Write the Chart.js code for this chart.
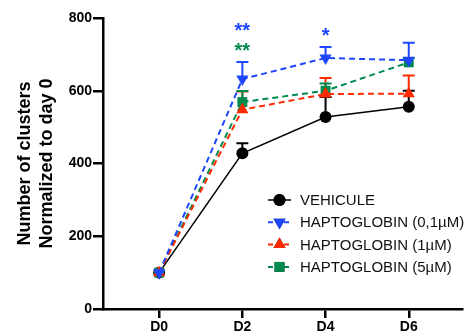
<!DOCTYPE html>
<html>
<head>
<meta charset="utf-8">
<script src="https://cdn.jsdelivr.net/npm/chart.js@4/dist/chart.umd.min.js"></script>
<style>
  html, body { margin: 0; padding: 0; background: #fff; }
  #wrap { width: 469px; height: 335px; }
</style>
</head>
<body>
<div id="wrap"><canvas id="chart"></canvas></div>
<script>
const days = [0, 2, 4, 6];
const dayLabels = ["D0", "D2", "D4", "D6"];
const yTicks = [0, 200, 400, 600, 800];

const seriesNames = ["VEHICULE", "HAPTOGLOBIN (0,1µM)", "HAPTOGLOBIN (1µM)", "HAPTOGLOBIN (5µM)"];
const vehicule = [100, 428, 528, 556];
const hapto01 = [100, 632, 690, 684];
const hapto1 = [100, 548, 591, 592];
const hapto5 = [100, 569, 600, 678];

// upper SEM
const vehiculeErr = [0, 28, 55, 44];
const hapto01Err = [0, 47, 30, 48];
const hapto1Err = [0, 50, 44, 50];
const hapto5Err = [0, 30, 20, 12];

// significance marks
const starDays = [2, 2, 4];
const starValues = [774, 718, 760];
const starTexts = ["**", "**", "*"];
const starSeries = [1, 3, 1];

const colors = ["#000000", "#1e46ff", "#ff2a00", "#008a4e"];
const font = "Arial, 'Liberation Sans', sans-serif";

function pts(values) {
  return values.map((v, i) => ({ x: days[i], y: v }));
}

const errs = [vehiculeErr, hapto01Err, hapto1Err, hapto5Err];

const errorBars = {
  id: "errorBars",
  beforeDatasetsDraw(chart) {
    const ctx = chart.ctx;
    const y = chart.scales.y;
    chart.data.datasets.forEach((ds, di) => {
      const meta = chart.getDatasetMeta(di);
      meta.data.forEach((p, i) => {
        const e = errs[di][i];
        if (!e) return;
        const top = y.getPixelForValue(ds.data[i].y + e);
        ctx.save();
        ctx.strokeStyle = colors[di];
        ctx.lineWidth = 2;
        ctx.beginPath();
        ctx.moveTo(p.x, p.y);
        ctx.lineTo(p.x, top);
        ctx.moveTo(p.x - 6, top);
        ctx.lineTo(p.x + 6, top);
        ctx.stroke();
        ctx.restore();
      });
    });
  },
  afterDraw(chart) {
    const ctx = chart.ctx;
    const xs = chart.scales.x, ys = chart.scales.y;
    ctx.save();
    ctx.font = "bold 20px " + font;
    ctx.textAlign = "center";
    ctx.textBaseline = "middle";
    starTexts.forEach((t, i) => {
      ctx.fillStyle = colors[starSeries[i]];
      ctx.fillText(t, xs.getPixelForValue(starDays[i]), ys.getPixelForValue(starValues[i]) + 4);
    });
    ctx.restore();

    // legend
    ctx.save();
    ctx.font = "15px " + font;
    ctx.textBaseline = "middle";
    chart.data.datasets.forEach((ds, di) => {
      const ly = 200 + di * 22.3;
      ctx.strokeStyle = colors[di];
      ctx.lineWidth = di === 0 ? 1.5 : 2;
      ctx.setLineDash(di === 0 ? [] : [5, 3]);
      ctx.beginPath();
      ctx.moveTo(268, ly);
      ctx.lineTo(291, ly);
      ctx.stroke();
      ctx.setLineDash([]);
      Chart.helpers.drawPoint(ctx, {
        pointStyle: ds.pointStyle,
        radius: ds.pointRadius,
        rotation: ds.pointRotation || 0,
        borderWidth: 0
      }, 279.5, ly);
      ctx.fillStyle = colors[di];
      ctx.fill();
      ctx.fillStyle = "#111";
      ctx.fillText(seriesNames[di], 300, ly + 1);
    });
    ctx.restore();
  }
};

const styles = [
  { pointStyle: "circle", pointRadius: 6, dash: [] },
  { pointStyle: "triangle", pointRadius: 7, pointRotation: 180, dash: [6, 4] },
  { pointStyle: "triangle", pointRadius: 7, dash: [6, 4] },
  { pointStyle: "rect", pointRadius: 7, dash: [6, 4] }
];
const values = [vehicule, hapto01, hapto1, hapto5];
// black at the bottom, blue on top
const drawOrder = [3, 0, 1, 2];

new Chart(document.getElementById("chart"), {
  type: "line",
  data: {
    datasets: values.map((v, i) => ({
      label: seriesNames[i],
      data: pts(v),
      borderColor: colors[i],
      backgroundColor: colors[i],
      borderWidth: i === 0 ? 1.5 : 2,
      borderDash: styles[i].dash,
      pointStyle: styles[i].pointStyle,
      pointRadius: styles[i].pointRadius,
      pointRotation: styles[i].pointRotation || 0,
      pointBorderWidth: 0,
      order: drawOrder[i],
      tension: 0
    }))
  },
  options: {
    responsive: true,
    maintainAspectRatio: false,
    animation: false,
    layout: { padding: { top: 18, right: 0, left: 0, bottom: 0 } },
    plugins: { legend: { display: false }, tooltip: { enabled: false } },
    scales: {
      x: {
        type: "linear",
        min: -1.35,
        max: 7.28,
        afterBuildTicks: (s) => { s.ticks = days.map(v => ({ value: v })); },
        afterFit: (s) => { s.height = 26; },
        ticks: {
          callback: (v) => dayLabels[days.indexOf(v)],
          color: "#000",
          font: { family: font, size: 14, weight: "bold" },
          padding: 1,
          maxRotation: 0
        },
        grid: { drawOnChartArea: false, drawTicks: true, tickLength: 9, lineWidth: 2.5, color: "#000" },
        border: { display: true, width: 2.5, color: "#000" }
      },
      y: {
        min: 0,
        max: 800,
        afterBuildTicks: (s) => { s.ticks = yTicks.map(v => ({ value: v })); },
        afterFit: (s) => { s.width = 103; },
        ticks: {
          color: "#000",
          font: { family: font, size: 14, weight: "bold" },
          padding: 1
        },
        grid: { drawOnChartArea: false, drawTicks: true, tickLength: 10, lineWidth: 2.5, color: "#000" },
        border: { display: true, width: 2.5, color: "#000" },
        title: {
          display: true,
          text: ["Number of clusters", "Normalized to day 0"],
          color: "#000",
          font: { family: font, size: 18, weight: "bold", lineHeight: 1.22 },
          padding: { top: 14, bottom: 0 }
        }
      }
    }
  },
  plugins: [errorBars]
});
</script>
</body>
</html>
